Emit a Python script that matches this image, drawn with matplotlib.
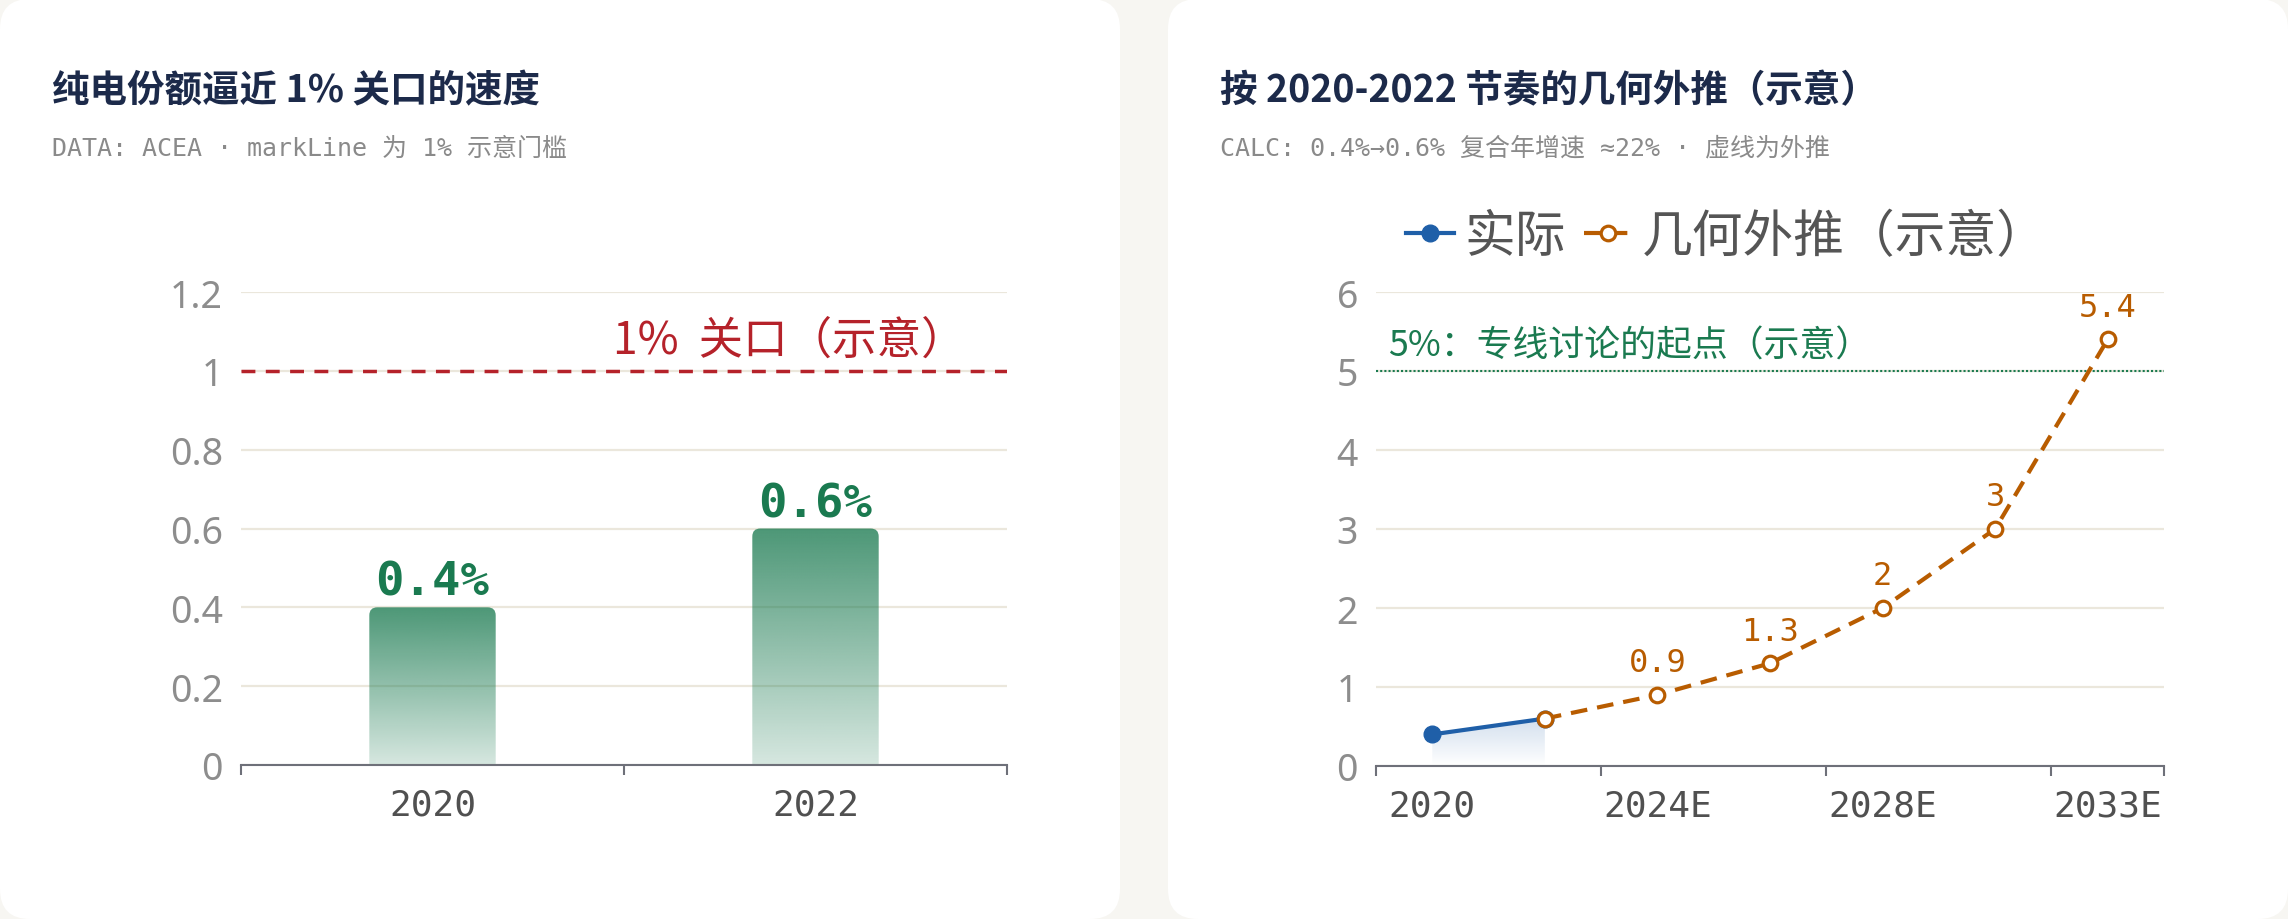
import matplotlib
matplotlib.use("Agg")
import matplotlib.pyplot as plt
import numpy as np
from matplotlib.patches import FancyBboxPatch, Polygon
from matplotlib.lines import Line2D
from matplotlib.transforms import IdentityTransform

plt.rcParams['font.family'] = ['Noto Sans CJK SC', 'DejaVu Sans']

# ---------------- data ----------------
title_left = "纯电份额逼近 1% 关口的速度"
sub_left = "DATA: ACEA · markLine 为 1% 示意门槛"
title_right = "按 2020-2022 节奏的几何外推（示意）"
sub_right = "CALC: 0.4%→0.6% 复合年增速 ≈22% · 虚线为外推"

bar_years = ["2020", "2022"]
bar_share = [0.4, 0.6]
gate_value = 1.0
gate_label = "1%  关口（示意）"
left_yticks = [0, 0.2, 0.4, 0.6, 0.8, 1.0, 1.2]

proj_years = ["2020", "2022", "2024E", "2026E", "2028E", "2030E", "2033E"]
actual = [0.4, 0.6, None, None, None, None, None]
projected = [None, 0.6, 0.9, 1.3, 2, 3, 5.4]
label_from = 2  # first projected point that carries a value label
shown_xlabels = ["2020", "2024E", "2028E", "2033E"]
right_yticks = [0, 1, 2, 3, 4, 5, 6]
threshold = 5
threshold_label = "5%：专线讨论的起点（示意）"
legend_labels = ["实际", "几何外推（示意）"]

# ---------------- styles ----------------
W, H = 2288, 920
BG = "#f7f6f2"
GRID = "#ebe7dc"
AXIS = "#6e7079"
YLAB = "#8d8d8d"
XLAB = "#505050"
GREEN = "#1a7a50"
RED = "#b5222a"
BLUE = "#1f5fa8"
ORANGE = "#b85c00"
NAVY = "#1c2a4a"
MONO = ["DejaVu Sans Mono", "Noto Sans CJK SC"]

fig = plt.figure(figsize=(W / 100, H / 100), dpi=100)
fig.patch.set_facecolor(BG)

for x0 in (0, 1168):
    card = FancyBboxPatch((x0, 0), 1120, 920,
                          boxstyle="round,pad=0,rounding_size=30",
                          transform=IdentityTransform(), facecolor="white",
                          edgecolor="none", zorder=-5)
    fig.patches.append(card)

# titles
for x, t, s in ((52, title_left, sub_left), (1220, title_right, sub_right)):
    fig.text(x / W, 1 - 91 / H, t, fontsize=27, fontweight="bold", color=NAVY,
             ha="left", va="center")
    fig.text(x / W, 1 - 149 / H, s, fontsize=18, color="#8a8a8a",
             family=MONO, ha="left", va="center")


def style_axes(ax, yticks):
    ax.set_facecolor("none")
    for sp in ("top", "right", "left"):
        ax.spines[sp].set_visible(False)
    ax.spines["bottom"].set_color(AXIS)
    ax.spines["bottom"].set_linewidth(1.5)
    ax.set_yticks(yticks, labels=[f"{v:g}" for v in yticks], fontsize=27,
                  color=YLAB, fontfamily="Noto Sans")
    ax.yaxis.grid(True, color=GRID, lw=1.6)
    ax.set_axisbelow(True)
    ax.tick_params(axis="y", length=0, pad=13)
    ax.tick_params(axis="x", which="major", length=0, pad=16)
    ax.tick_params(axis="x", which="minor", length=7, width=1.5, color=AXIS)


# ---------------- left chart ----------------
ax1 = fig.add_axes([241 / W, (H - 766) / H, 766 / W, 473 / H])
style_axes(ax1, left_yticks)
ax1.set_xticks(range(len(bar_years)), labels=bar_years, fontsize=26,
               color=XLAB, fontfamily="DejaVu Sans Mono")
ax1.set_xticks(np.arange(len(bar_years) + 1) - 0.5, minor=True)

bw = 0.33
rgb = np.array([26, 122, 80]) / 255
for i, v in enumerate(bar_share):
    clip = FancyBboxPatch((i - bw / 2, -0.05), bw, v + 0.05,
                          boxstyle="round,pad=0,rounding_size=0.021",
                          mutation_aspect=0.97, transform=ax1.transData,
                          facecolor="none", edgecolor="none")
    ax1.add_patch(clip)
    alpha = np.linspace(0.18, 0.78, 256)
    grad = np.zeros((256, 1, 4))
    grad[:, 0, :3] = rgb
    grad[:, 0, 3] = alpha
    im = ax1.imshow(grad, extent=[i - bw / 2, i + bw / 2, 0, v], origin="lower",
                    aspect="auto", zorder=2, interpolation="bilinear")
    im.set_clip_path(clip)
    ax1.annotate(f"{v}%", (i, v), xytext=(0, 9), textcoords="offset points",
                 ha="center", va="baseline", fontsize=34, fontweight="bold",
                 color=GREEN, family="DejaVu Sans Mono")

ax1.axhline(gate_value, color=RED, lw=2.5, linestyle=(0, (4.0, 3.0)), zorder=3)
ax1.annotate(gate_label, xy=(1, gate_value), xycoords=("axes fraction", "data"),
             xytext=(-30, 13), textcoords="offset points", ha="right",
             va="baseline", fontsize=32, color=RED)
ax1.set_xlim(-0.5, len(bar_years) - 0.5)
ax1.set_ylim(0, 1.2)

# ---------------- right chart ----------------
ax2 = fig.add_axes([1376 / W, (H - 767) / H, 788 / W, 474 / H])
style_axes(ax2, right_yticks)
major_pos = [proj_years.index(y) for y in shown_xlabels]
ax2.set_xticks(major_pos, labels=shown_xlabels, fontsize=26, color=XLAB,
               fontfamily="DejaVu Sans Mono")
ax2.set_xticks([-0.5, 1.5, 3.5, 5.5, len(proj_years) - 0.5], minor=True)

ax_x = [i for i, v in enumerate(actual) if v is not None]
ax_y = [v for v in actual if v is not None]
pr_x = [i for i, v in enumerate(projected) if v is not None]
pr_y = [v for v in projected if v is not None]

# area under actual
poly = Polygon([(ax_x[0], 0)] + list(zip(ax_x, ax_y)) + [(ax_x[-1], 0)],
               closed=True, facecolor="none", edgecolor="none",
               transform=ax2.transData)
ax2.add_patch(poly)
g2 = np.zeros((256, 1, 4))
g2[:, 0, :3] = np.array([31, 95, 168]) / 255
g2[:, 0, 3] = np.linspace(0.0, 0.2, 256)
im2 = ax2.imshow(g2, extent=[ax_x[0], ax_x[-1], 0, max(ax_y)], origin="lower",
                 aspect="auto", zorder=1.5, interpolation="bilinear")
im2.set_clip_path(poly)

ax2.axhline(threshold, color=GREEN, lw=1.5, linestyle=(0, (1, 1)), zorder=2)
ax2.annotate(threshold_label, xy=(0, threshold), xycoords=("axes fraction", "data"),
             xytext=(9, 11), textcoords="offset points", ha="left",
             va="baseline", fontsize=25.8, color=GREEN)

LW = 3.0
ax2.plot(ax_x, ax_y, color=BLUE, lw=LW, marker="o", ms=12, mfc=BLUE,
         mec=BLUE, zorder=4, solid_capstyle="round")
ax2.plot(pr_x, pr_y, color=ORANGE, lw=LW, linestyle=(0, (4.0, 2.4)),
         marker="o", ms=10.5, mfc="white", mec=ORANGE, mew=2.3, zorder=5)
for x, v in zip(pr_x, pr_y):
    if x >= label_from:
        ax2.annotate(f"{v:g}", (x, v), xytext=(0, 17), textcoords="offset points",
                     ha="center", va="baseline", fontsize=23, color=ORANGE,
                     family="DejaVu Sans Mono")

ax2.set_xlim(-0.5, len(proj_years) - 0.5)
ax2.set_ylim(0, 6)

handles = [
    Line2D([], [], color=BLUE, lw=LW, marker="o", ms=12, mfc=BLUE, mec=BLUE),
    Line2D([], [], color=ORANGE, lw=LW, linestyle=(0, (4.0, 2.4)), marker="o",
           ms=10.5, mfc="white", mec=ORANGE, mew=2.3),
]
fig.legend(handles, legend_labels, loc="center", bbox_to_anchor=(1727 / W, 1 - 238 / H),
           ncol=2, frameon=False, fontsize=36.5, handlelength=0.95,
           handletextpad=0.2, columnspacing=0.35, labelcolor="#555555")

fig.savefig("out.png", dpi=100, facecolor=BG)
